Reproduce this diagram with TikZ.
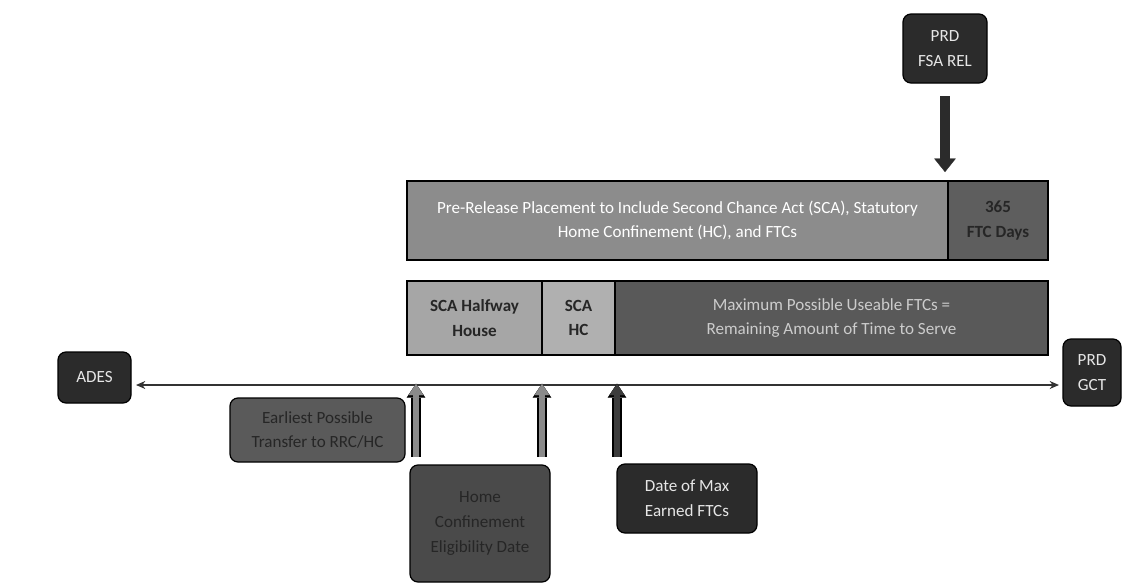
\documentclass[tikz,border=0pt]{standalone}
\usepackage{fontspec}
\setmainfont{Carlito}
\usetikzlibrary{arrows.meta}
\definecolor{boxdark}{HTML}{2B2B2B}
\definecolor{boxmid}{HTML}{5A5A5A}
\definecolor{boxhome}{HTML}{4A4A4A}
\definecolor{barA}{HTML}{8C8C8C}
\definecolor{barB}{HTML}{5E5E5E}
\definecolor{cellA}{HTML}{A6A6A6}
\definecolor{cellB}{HTML}{B0B0B0}
\definecolor{cellC}{HTML}{595959}
\definecolor{txtlight}{HTML}{E6E6E6}
\definecolor{txtdark}{HTML}{262626}
\definecolor{arrA}{HTML}{8A8A8A}
\definecolor{arrC}{HTML}{3C3C3C}
\begin{document}
\begin{tikzpicture}[x=0.75pt,y=-0.75pt,
  font=\fontsize{12.8}{18.5}\selectfont,
  rbox/.style={draw=black, line width=0.9pt, rounded corners=6pt, align=center, inner sep=2pt},
  cell/.style={draw=black, line width=1.1pt, align=center, inner sep=2pt},
  blockarrow/.style={line width=5pt, draw=#1, shorten >=1.3pt,
    -{Triangle[length=8.5pt,width=11pt,line width=0.1pt]},
    preaction={draw=black, line width=7pt, -{Triangle[length=10.5pt,width=14pt,line width=0.1pt]}}},
  downarrow/.style={line width=7.5pt, draw=boxdark, -{Triangle[length=10pt,width=16pt,line width=0.1pt]}},
  timeline/.style={line width=0.9pt, draw=black!80, {Stealth[length=7pt,width=6pt]}-{Stealth[length=7pt,width=6pt]}}
]
\useasboundingbox (0,0) rectangle (1122,586);
\fill[white] (0,0) rectangle (1122,586);

% top boxes
\node[rbox, fill=boxdark, text=txtlight, minimum width=84*0.75pt, minimum height=69*0.75pt] (fsa) at (945,48.5) {PRD\\FSA REL};

% pre-release bar
\node[cell, fill=barA, text=white, minimum width=541*0.75pt, minimum height=79*0.75pt] (pre) at (677.5,220.5)
  {Pre-Release Placement to Include Second Chance Act (SCA), Statutory\\Home Confinement (HC), and FTCs};
\node[cell, fill=barB, text=txtdark, font=\fontsize{12.8}{18.5}\selectfont\bfseries, minimum width=100*0.75pt, minimum height=79*0.75pt] (ftc) at (998,220.5) {365\\FTC Days};

% second bar
\node[cell, fill=cellA, text=txtdark, font=\fontsize{12.8}{18.5}\selectfont\bfseries, minimum width=135*0.75pt, minimum height=74*0.75pt] (half) at (474.5,318) {SCA Halfway\\House};
\node[cell, fill=cellB, text=txtdark, font=\fontsize{12.8}{18.5}\selectfont\bfseries, minimum width=73*0.75pt, minimum height=74*0.75pt] (schc) at (578.5,318) {SCA\\HC};
\node[cell, fill=cellC, text=black!20, minimum width=433*0.75pt, minimum height=74*0.75pt] (maxu) at (831.5,318) {Maximum Possible Useable FTCs =\\Remaining Amount of Time to Serve};

% timeline end boxes
\node[rbox, fill=boxdark, text=txtlight, minimum width=73*0.75pt, minimum height=51*0.75pt] (ades) at (94.5,377.5) {ADES};
\node[rbox, fill=boxdark, text=txtlight, minimum width=58*0.75pt, minimum height=67*0.75pt] (gct) at (1092,372.5) {PRD\\GCT};

% lower boxes
\node[rbox, fill=boxmid, text=txtdark, minimum width=175*0.75pt, minimum height=64*0.75pt] (early) at (317.5,430) {Earliest Possible\\Transfer to RRC/HC};
\node[rbox, fill=boxhome, text=txtdark, minimum width=140*0.75pt, minimum height=117*0.75pt] (home) at (480,523.5) {Home\\Confinement\\Eligibility Date};
\node[rbox, fill=boxdark, text=txtlight, minimum width=140*0.75pt, minimum height=69*0.75pt] (datemax) at (687,498.5) {Date of Max\\Earned FTCs};

% timeline
\coordinate (tl) at (136,385);
\coordinate (tr) at (1059,385);
\draw[timeline] (tl) -- (tr);

% down arrow
\coordinate (d1) at (945,96);
\coordinate (d2) at (945,172);
\draw[downarrow] (d1) -- (d2);

% up arrows
\coordinate (a1s) at (416,457);
\coordinate (a1e) at (416,382);
\coordinate (a2s) at (542,457);
\coordinate (a2e) at (542,382);
\coordinate (a3s) at (617,457);
\coordinate (a3e) at (617,382);
\draw[blockarrow=arrA] (a1s) -- (a1e);
\draw[blockarrow=arrA] (a2s) -- (a2e);
\draw[blockarrow=arrC] (a3s) -- (a3e);
\end{tikzpicture}
\end{document}
